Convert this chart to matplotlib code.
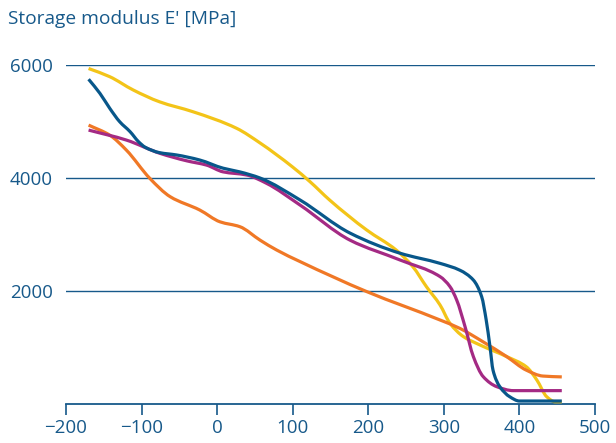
import matplotlib
matplotlib.use("Agg")
import matplotlib.pyplot as plt
import numpy as np
from matplotlib.patches import PathPatch
from matplotlib.path import Path

BLUE_TEXT = "#17598a"

yellow_t = [-170, -142, -111, -76, -32, 26, 57, 100, 123, 149, 198, 237, 259, 277, 295, 308, 326, 348, 383, 409, 423, 436, 447, 456]
yellow_e = [5940, 5795, 5560, 5350, 5175, 4880, 4620, 4195, 3935, 3610, 3080, 2725, 2430, 2076, 1752, 1430, 1192, 1044, 840, 660, 425, 130, 40, 40]

blue_t = [-170, -155, -142, -129, -115, -104, -95, -76, -54, -23, 8, 30, 57, 110, 176, 242, 295, 321, 339, 350, 356, 361, 365, 374, 387, 400, 456]
blue_e = [5750, 5500, 5235, 5000, 4820, 4645, 4545, 4450, 4410, 4320, 4175, 4110, 4000, 3610, 3025, 2670, 2490, 2370, 2195, 1900, 1487, 1015, 600, 307, 130, 53, 53]

magenta_t = [-170, -120, -76, -40, -14, 8, 39, 65, 110, 176, 242, 295, 308, 317, 328, 339, 352, 370, 392, 456]
magenta_e = [4850, 4673, 4440, 4305, 4230, 4110, 4055, 3910, 3520, 2900, 2550, 2255, 2080, 1840, 1370, 840, 485, 307, 237, 237]

orange_t = [-170, -142, -120, -89, -62, -23, 4, 30, 57, 79, 110, 198, 295, 321, 352, 383, 409, 431, 456]
orange_e = [4938, 4760, 4495, 3995, 3670, 3435, 3225, 3140, 2900, 2725, 2520, 1990, 1487, 1340, 1100, 840, 600, 495, 480]

x_ticks = [-200, -100, 0, 100, 200, 300, 400, 500]
y_ticks = [2000, 4000, 6000]


def smooth_path(xs, ys):
    # monotone cubic (Fritsch-Carlson) tangents, drawn as Bezier segments
    x = np.asarray(xs, float)
    y = np.asarray(ys, float)
    h = np.diff(x)
    d = np.diff(y) / h
    m = np.zeros_like(x)
    m[0], m[-1] = d[0], d[-1]
    for i in range(1, len(x) - 1):
        if d[i - 1] * d[i] <= 0:
            m[i] = 0.0
        else:
            w1 = 2 * h[i] + h[i - 1]
            w2 = h[i] + 2 * h[i - 1]
            m[i] = (w1 + w2) / (w1 / d[i - 1] + w2 / d[i])
    verts = [(x[0], y[0])]
    codes = [Path.MOVETO]
    for i in range(len(h)):
        verts += [
            (x[i] + h[i] / 3, y[i] + m[i] * h[i] / 3),
            (x[i + 1] - h[i] / 3, y[i + 1] - m[i + 1] * h[i] / 3),
            (x[i + 1], y[i + 1]),
        ]
        codes += [Path.CURVE4] * 3
    return Path(verts, codes)


plt.rcParams["font.family"] = ["Open Sans", "DejaVu Sans"]

fig = plt.figure(figsize=(6.16, 4.43), dpi=100)
ax = fig.add_axes([0.107, 0.088, 0.859, 0.765])

series = [
    (yellow_t, yellow_e, "#f3c418"),
    (orange_t, orange_e, "#f07826"),
    (magenta_t, magenta_e, "#a42a84"),
    (blue_t, blue_e, "#08578a"),
]
for t, e, color in series:
    patch = PathPatch(smooth_path(t, e), facecolor="none", edgecolor=color, lw=2.3,
                      joinstyle="round", capstyle="butt", clip_on=False, zorder=3)
    ax.add_patch(patch)

ax.set_xlim(-200, 500)
ax.set_ylim(0, 6000)
ax.set_xticks(x_ticks)
ax.set_yticks(y_ticks)
ax.grid(axis="y", color=BLUE_TEXT, lw=1.0)
ax.set_axisbelow(True)

for side in ["top", "right", "left"]:
    ax.spines[side].set_visible(False)
ax.spines["bottom"].set_color(BLUE_TEXT)
ax.spines["bottom"].set_linewidth(1.3)

ax.tick_params(axis="x", direction="out", length=8, width=1.2, color=BLUE_TEXT,
               labelcolor=BLUE_TEXT, labelsize=13.5, pad=3)
ax.tick_params(axis="y", length=0, labelcolor=BLUE_TEXT, labelsize=13.5, pad=9.5)

fig.text(0.013, 0.958, "Storage modulus E' [MPa]", color=BLUE_TEXT, fontsize=13.8, va="center", ha="left")

fig.savefig("out.png", dpi=100)
